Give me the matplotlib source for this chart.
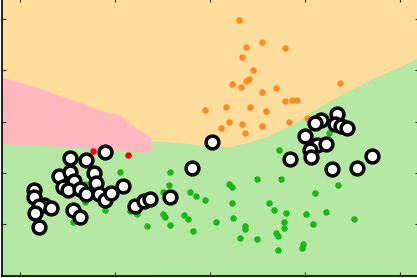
import matplotlib
matplotlib.use("Agg")
import matplotlib.pyplot as plt
import numpy as np

# decision region boundaries
green_x = [-0.21, 0.32, 0.84, 1.26, 1.37, 1.39, 1.68, 1.89, 2.21, 2.42, 2.60, 2.92, 3.19, 3.47, 3.76, 4.00, 4.21]
green_top = [1.56, 1.52, 1.46, 1.40, 1.39, 1.62, 1.58, 1.54, 1.50, 1.60, 1.70, 1.99, 2.32, 2.61, 2.87, 3.06, 3.26]
pink_x = [-0.21, 0.00, 0.21, 0.42, 0.63, 0.84, 1.05, 1.16, 1.26, 1.37, 1.40]
pink_top = [2.87, 2.77, 2.65, 2.50, 2.38, 2.22, 2.13, 1.95, 1.83, 1.70, 1.44]

# class points
orange_x = [2.30, 2.38, 2.55, 2.79, 2.34, 2.45, 2.41, 2.38, 2.23, 2.33, 2.69, 2.55, 3.37, 2.79,
            2.86, 2.92, 2.17, 2.42, 2.59, 1.95, 2.20, 2.34, 2.55, 2.83, 3.02, 2.12, 2.37]
orange_y = [3.99, 3.46, 3.56, 3.44, 3.25, 3.01, 2.84, 2.80, 2.73, 2.67, 2.65, 2.57, 2.76, 2.41,
            2.43, 2.42, 2.29, 2.29, 2.20, 2.23, 2.00, 1.96, 1.92, 2.00, 2.07, 1.87, 1.78]

red_x = [0.77, 1.14]
red_y = [1.42, 1.35]

green_px = [1.05, 1.58, 1.57, 1.51, 1.79, 1.85, 1.95, 1.51, 1.53, 1.73, 1.77, 1.58, 1.82, 1.34,
            1.23, 1.16, 0.89, 0.68, 0.56, 0.68, 2.73, 2.49, 2.75, 2.20, 2.23, 3.35, 3.10, 2.23,
            2.62, 2.67, 2.80, 3.22, 3.01, 2.06, 2.24, 2.78, 3.08, 3.52, 2.37, 2.37, 2.78, 2.32,
            2.49, 2.69, 2.72, 2.98, 2.97, 2.72, 3.25]
green_py = [1.01, 1.01, 0.77, 0.62, 0.63, 0.55, 0.47, 0.19, 0.14, 0.17, 0.10, -0.01, -0.14, -0.03,
            0.19, 0.26, 0.27, 0.44, 0.05, 0.79, 1.44, 0.88, 0.89, 0.79, 0.72, 0.76, 0.61, 0.41,
            0.42, 0.27, 0.21, 0.24, 0.19, 0.05, 0.12, 0.05, 0.01, 0.10, -0.04, -0.09, -0.08, -0.27,
            -0.29, -0.18, -0.23, -0.38, -0.46, -0.50, 1.77]

# highlighted points (white circles)
hl_x = [0.89, 0.53, 0.69, 0.41, 0.53, 0.78, 0.80, 0.57, 0.45, 0.50, 0.63, 0.69, 0.15, 0.15,
        0.25, 0.20, 0.33, 0.16, 0.56, 0.63, 0.20, 0.83, 0.89, 0.96, 1.08, 1.21, 1.30, 1.37,
        1.58, 1.81, 2.02, 3.34, 3.17, 3.11, 3.32, 3.38, 3.44, 3.00, 3.13, 3.22, 3.05, 3.06,
        2.84, 3.28, 3.55, 3.71]
hl_y = [1.40, 1.29, 1.26, 0.93, 1.01, 0.99, 0.81, 0.84, 0.72, 0.66, 0.68, 0.59, 0.66, 0.53,
        0.38, 0.36, 0.31, 0.21, 0.28, 0.14, -0.06, 0.59, 0.47, 0.61, 0.75, 0.36, 0.45, 0.50,
        0.53, 1.10, 1.61, 2.14, 2.04, 1.98, 1.95, 1.91, 1.87, 1.72, 1.55, 1.56, 1.44, 1.31,
        1.27, 1.07, 1.09, 1.32]

fig = plt.figure(figsize=(4.17, 2.78), dpi=100)
ax = fig.add_axes([2 / 417, 2 / 278, 1, 1])
ax.set_xlim(-0.19, 4.20)
ax.set_ylim(-1.01, 4.41)
ax.set_facecolor("#FFDE9B")

ymin = -1.2
ax.fill_between(pink_x, ymin, pink_top, color="#FFB8C0", lw=0)
ax.fill_between(green_x, ymin, green_top, color="#B5E8A3", lw=0)

ax.scatter(orange_x, orange_y, s=22, c="#FF8A24", lw=0, zorder=3)
ax.scatter(red_x, red_y, s=22, c="#FF0000", lw=0, zorder=3)
ax.scatter(green_px, green_py, s=22, c="#1CB51C", lw=0, zorder=3)
ax.scatter(hl_x, hl_y, s=85, facecolor="white", edgecolor="black", lw=2.5, zorder=4)

ax.set_xticks([0, 1, 2, 3, 4])
ax.set_yticks([0, 1, 2, 3, 4])
ax.set_xticklabels([])
ax.set_yticklabels([])
ax.tick_params(direction="in", length=3, width=0.8, color="#333333",
               top=True, right=True)
for s in ax.spines.values():
    s.set_linewidth(1.2)

fig.savefig("out.png", dpi=100)
